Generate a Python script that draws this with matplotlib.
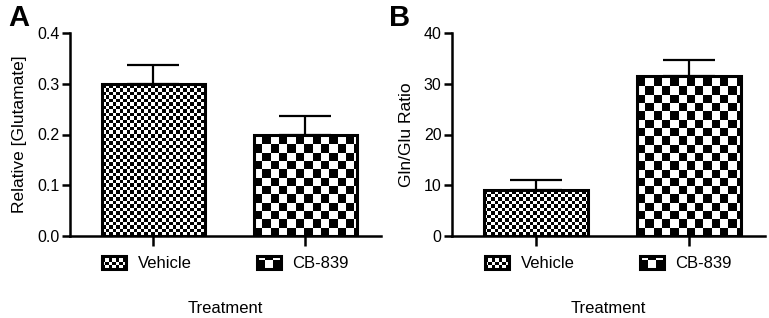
import numpy as np
import matplotlib
matplotlib.use("Agg")
import matplotlib.pyplot as plt
from matplotlib.patches import Rectangle
from matplotlib.legend_handler import HandlerBase

plt.rcParams['font.family'] = ['Liberation Sans', 'DejaVu Sans']

# data
treatments = ['Vehicle', 'CB-839']
glu_mean = [0.30, 0.20]
glu_err = [0.037, 0.037]
ratio_mean = [9.0, 31.5]
ratio_err = [2.0, 3.1]

# checker square size (px) for each group
cell_px = [3.5, 8.3]


class CheckerHandler(HandlerBase):
    # legend swatch drawn as a small checkerboard
    def __init__(self, cell):
        super().__init__()
        self.cell = cell

    def create_artists(self, legend, orig_handle, xdescent, ydescent,
                       width, height, fontsize, trans):
        c = self.cell * 72.0 / 100.0
        x0, y0 = -xdescent, -ydescent
        arts = [Rectangle((x0, y0), width, height, facecolor='white',
                          edgecolor='none', transform=trans)]
        nc = int(np.ceil(width / c))
        nr = int(np.ceil(height / c))
        for i in range(nc):
            for j in range(nr):
                if (i + j) % 2 == 0:
                    w = min(c, width - i * c)
                    h = min(c, height - j * c)
                    arts.append(Rectangle((x0 + i * c, y0 + j * c), w, h,
                                          facecolor='black', edgecolor='none',
                                          transform=trans))
        arts.append(Rectangle((x0, y0), width, height, facecolor='none',
                              edgecolor='black', lw=2.2, transform=trans))
        return arts


def panel(ax, means, errs, ymax, yticks, ylabel, fmt):
    x = np.arange(len(treatments))
    xlim = (-0.55, 1.5)
    ax.set_xlim(*xlim)
    ax.set_ylim(0, ymax)
    ax.errorbar(x, means, yerr=[np.zeros(len(errs)), errs], fmt='none',
                ecolor='black', elinewidth=1.6, capsize=18.5, capthick=1.6,
                zorder=1.5)
    bars = ax.bar(x, means, width=0.68, facecolor='none', edgecolor='black',
                  linewidth=2.2, zorder=3)
    ab = ax.get_window_extent()
    sx = ab.width / (xlim[1] - xlim[0])
    sy = ab.height / ymax
    for bar, cell in zip(bars, cell_px):
        bb = bar.get_window_extent()
        nc = int(np.ceil(bb.width / cell))
        nr = int(np.ceil(bb.height / cell))
        img = np.add.outer(np.arange(nr), np.arange(nc)) % 2
        x0 = bar.get_x()
        im = ax.imshow(img, cmap='gray', vmin=0, vmax=1, origin='lower',
                       interpolation='nearest', aspect='auto',
                       extent=(x0, x0 + nc * cell / sx, 0, nr * cell / sy),
                       zorder=2)
        im.set_clip_path(bar)
    ax.set_xlim(*xlim)
    ax.set_ylim(0, ymax)
    ax.set_xticks(x)
    ax.set_yticks(yticks)
    ax.set_yticklabels([fmt.format(v) for v in yticks])
    for s in ['top', 'right']:
        ax.spines[s].set_visible(False)
    for s in ['left', 'bottom']:
        ax.spines[s].set_linewidth(1.8)
    ax.tick_params(axis='y', direction='out', length=6, width=1.8,
                   labelsize=11.5, pad=1.5)
    ax.tick_params(axis='x', direction='out', length=7, width=1.8,
                   labelbottom=False)
    ax.set_ylabel(ylabel, fontsize=12.5, labelpad=7)

    handles = [Rectangle((0, 0), 1, 1) for _ in treatments]
    hmap = {h: CheckerHandler(c) for h, c in zip(handles, cell_px)}
    ax.legend(handles, treatments, handler_map=hmap, loc='center',
              bbox_to_anchor=(0.5, -0.135), ncol=2, frameon=False,
              fontsize=12, handlelength=1.45, handleheight=0.8,
              handletextpad=0.7, columnspacing=3.9)
    ax.text(0.5, -0.355, 'Treatment', transform=ax.transAxes, ha='center',
            va='center', fontsize=12)
    return ax


fig = plt.figure(figsize=(7.69, 3.18), dpi=100)
axA = fig.add_axes([70 / 769, 82 / 318, 311 / 769, 203 / 318])
axB = fig.add_axes([452 / 769, 82 / 318, 313 / 769, 203 / 318])

panel(axA, glu_mean, glu_err, 0.4, [0.0, 0.1, 0.2, 0.3, 0.4],
      'Relative [Glutamate]', '{:.1f}')
panel(axB, ratio_mean, ratio_err, 40, [0, 10, 20, 30, 40],
      'Gln/Glu Ratio', '{:.0f}')

fig.text(8 / 769, 1 - 18 / 318, 'A', fontsize=21, fontweight='bold',
         va='center', ha='left')
fig.text(389 / 769, 1 - 18 / 318, 'B', fontsize=21, fontweight='bold',
         va='center', ha='left')

fig.savefig('out.png', dpi=100)
